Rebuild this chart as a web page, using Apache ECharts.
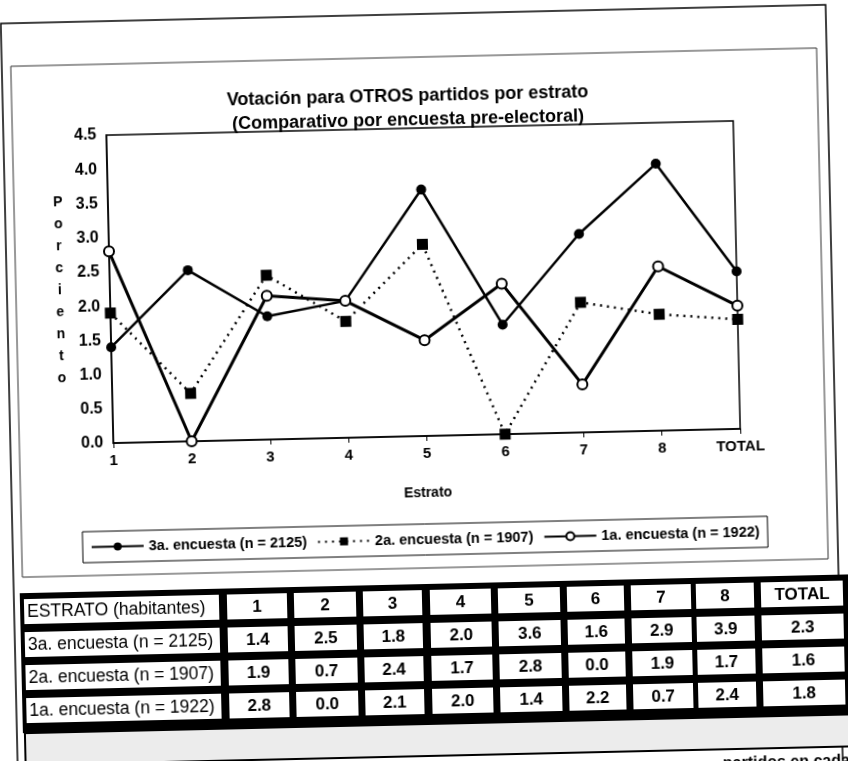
<!DOCTYPE html>
<html>
<head>
<meta charset="utf-8">
<script src="https://cdn.jsdelivr.net/npm/echarts@6/dist/echarts.min.js"></script>
<style>
html, body { margin: 0; padding: 0; background: #fff; width: 848px; height: 761px; overflow: hidden; }
/* the scanned page is slightly tilted */
#chart { width: 848px; height: 800px; transform: rotate(-1.3deg); transform-origin: 424px 380px; }
</style>
</head>
<body>
<div id="chart"></div>
<script>
var estratos = ['1', '2', '3', '4', '5', '6', '7', '8', 'TOTAL'];
var encuesta3 = [1.4, 2.5, 1.8, 2.0, 3.6, 1.6, 2.9, 3.9, 2.3];
var encuesta2 = [1.9, 0.7, 2.4, 1.7, 2.8, 0.0, 1.9, 1.7, 1.6];
var encuesta1 = [2.8, 0.0, 2.1, 2.0, 1.4, 2.2, 0.7, 2.4, 1.8];
var serieNames = ['3a. encuesta (n = 2125)', '2a. encuesta (n = 1907)', '1a. encuesta (n = 1922)'];
var tableHeader = 'ESTRATO (habitantes)';
var yMin = 0, yMax = 4.5, yStep = 0.5;

var FONT = '"Liberation Sans", Arial, sans-serif';

// table layout
var colLeft = [222, 289, 358, 425, 493, 562, 626, 691, 756];
var colRight = [282, 351, 417, 486, 555, 619, 686, 749, 838];
var rowTop = 590, rowH = 25, rowStep = 33;

function buildTable() {
  var rows = [
    [tableHeader].concat(estratos),
    [serieNames[0]].concat(encuesta3.map(function (v) { return v.toFixed(1); })),
    [serieNames[1]].concat(encuesta2.map(function (v) { return v.toFixed(1); })),
    [serieNames[2]].concat(encuesta1.map(function (v) { return v.toFixed(1); }))
  ];
  var els = [];
  els.push({ type: 'rect', shape: { x: 15, y: 584, width: 831, height: 140 }, style: { fill: '#000' } });
  rows.forEach(function (row, r) {
    var y = rowTop + r * rowStep;
    els.push({ type: 'rect', shape: { x: 19, y: y, width: 195, height: rowH }, style: { fill: '#fff' } });
    els.push({ type: 'text', x: 22, y: y + rowH / 2 + 1, style: { text: row[0], font: '17.5px ' + FONT, fill: '#000', verticalAlign: 'middle' } });
    for (var c = 1; c < row.length; c++) {
      var x0 = colLeft[c - 1], x1 = colRight[c - 1];
      els.push({ type: 'rect', shape: { x: x0, y: y, width: x1 - x0, height: rowH }, style: { fill: '#fff' } });
      els.push({ type: 'text', x: (x0 + x1) / 2, y: y + rowH / 2 + 1, style: { text: row[c], font: 'bold 17px ' + FONT, fill: '#000', align: 'center', verticalAlign: 'middle' } });
    }
  });
  return els;
}

var chart = echarts.init(document.getElementById('chart'));

chart.setOption({
  animation: false,
  backgroundColor: '#fff',
  title: {
    text: 'Votación para OTROS partidos por estrato\n(Comparativo por encuesta pre-electoral)',
    left: 409,
    top: 79,
    textAlign: 'center',
    textStyle: { fontFamily: FONT, fontWeight: 'bold', fontSize: 18, lineHeight: 24, color: '#000' }
  },
  legend: {
    left: 79,
    top: 524,
    padding: [8, 8, 8, 8],
    borderColor: '#000',
    borderWidth: 1,
    itemWidth: 52,
    itemHeight: 10,
    itemGap: 10,
    data: serieNames,
    textStyle: { fontFamily: FONT, fontWeight: 'bold', fontSize: 14.5, color: '#000' }
  },
  grid: {
    left: 112,
    right: 109,
    top: 128,
    height: 308,
    show: true,
    borderColor: '#000',
    borderWidth: 1.5
  },
  xAxis: {
    type: 'category',
    data: estratos,
    boundaryGap: false,
    name: 'Estrato',
    nameLocation: 'middle',
    nameGap: 50,
    nameTextStyle: { fontFamily: FONT, fontWeight: 'bold', fontSize: 14, color: '#000' },
    axisLine: { lineStyle: { color: '#000', width: 1.5 } },
    axisTick: { show: true, length: 5, lineStyle: { color: '#000' } },
    axisLabel: { fontFamily: FONT, fontWeight: 'bold', fontSize: 15, color: '#000', margin: 10 },
    splitLine: { show: false }
  },
  yAxis: {
    type: 'value',
    min: yMin,
    max: yMax,
    interval: yStep,
    name: 'P\no\nr\nc\ni\ne\nn\nt\no',
    nameLocation: 'middle',
    nameRotate: 0,
    nameGap: 50,
    nameTextStyle: { fontFamily: FONT, fontWeight: 'bold', fontSize: 14, lineHeight: 22, color: '#000', align: 'center' },
    axisLine: { show: true, lineStyle: { color: '#000', width: 1.5 } },
    axisTick: { show: false },
    axisLabel: {
      fontFamily: FONT, fontWeight: 'bold', fontSize: 16, color: '#000', margin: 10,
      formatter: function (v) { return v.toFixed(1); }
    },
    splitLine: { show: false }
  },
  series: [
    {
      name: serieNames[0],
      type: 'line',
      data: encuesta3,
      symbol: 'circle',
      symbolSize: 10,
      itemStyle: { color: '#000' },
      lineStyle: { color: '#000', width: 2.5 }
    },
    {
      name: serieNames[1],
      type: 'line',
      data: encuesta2,
      symbol: 'rect',
      symbolSize: 11,
      itemStyle: { color: '#000' },
      lineStyle: { color: '#000', width: 2.5, type: [2, 5] }
    },
    {
      name: serieNames[2],
      type: 'line',
      data: encuesta1,
      symbol: 'emptyCircle',
      symbolSize: 10,
      itemStyle: { color: '#000', borderWidth: 1.5 },
      lineStyle: { color: '#000', width: 3 }
    }
  ],
  graphic: [
    // outer page frame
    { type: 'rect', shape: { x: 9, y: 14, width: 825, height: 800 }, style: { fill: 'none', stroke: '#000', lineWidth: 1.5 } },
    // chart frame
    { type: 'rect', shape: { x: 18, y: 57, width: 806, height: 511 }, style: { fill: 'none', stroke: '#333', lineWidth: 1 } },
    // notes box below the table
    { type: 'rect', shape: { x: 17, y: 724, width: 829, height: 32 }, style: { fill: '#ececec', stroke: '#000', lineWidth: 2 } },
    { type: 'text', x: 714, y: 763, style: { text: 'partidos en cada', font: 'bold 16px ' + FONT, fill: '#000' } }
  ].concat(buildTable())
});
</script>
</body>
</html>
